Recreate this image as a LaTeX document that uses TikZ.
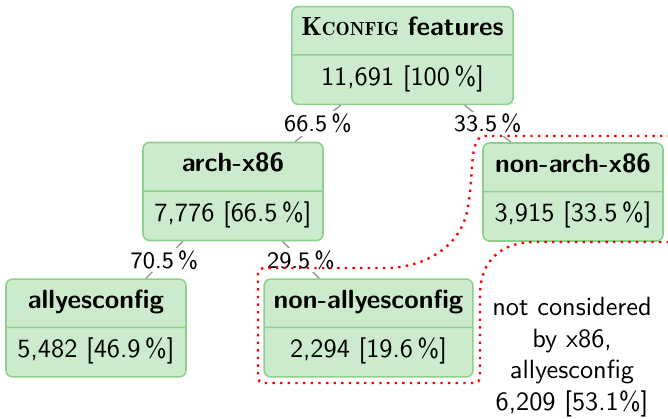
\documentclass[tikz,border=0pt]{standalone}
\usetikzlibrary{shapes.multipart}

\definecolor{boxfill}{RGB}{204,235,204}
\definecolor{boxline}{RGB}{140,208,140}
\definecolor{edgegray}{RGB}{150,150,150}

\tikzset{
  featbox/.style={rectangle split, rectangle split parts=2, draw=boxline,
    fill=boxfill, rounded corners=2.5pt, line width=0.6pt, font=\sffamily,
    minimum width=68.4pt, inner xsep=3.6pt, inner ysep=3.7pt},
  pct/.style={fill=white, font=\sffamily\small, inner sep=1pt},
  treeline/.style={draw=edgegray, line width=0.5pt},
  notconsidered/.style={draw=red, dotted, line width=0.9pt, rounded corners=2pt},
}
\newcommand{\boxstrut}{\rule[-3.3pt]{0pt}{8.9pt}}

\begin{document}
\begin{tikzpicture}[x=0.38pt,y=-0.38pt]
\useasboundingbox (0,0) rectangle (668,418);

% feature boxes
\node[featbox] (root) at (402.5,55.5)
  {\boxstrut{\rmfamily\fontseries{b}\selectfont K{\fontsize{7.2}{9}\selectfont CONFIG}} \textbf{features}
   \nodepart{second}\boxstrut 11,691 [100\,\%]};
\node[featbox] (arch) at (233,191.5)
  {\boxstrut\textbf{arch-x86}\nodepart{second}\boxstrut 7,776 [66.5\,\%]};
\node[featbox] (nonarch) at (573,192)
  {\boxstrut\textbf{non-arch-x86}\nodepart{second}\boxstrut 3,915 [33.5\,\%]};
\node[featbox] (allyes) at (96,328)
  {\boxstrut\textbf{allyesconfig}\nodepart{second}\boxstrut 5,482 [46.9\,\%]};
\node[featbox] (nonallyes) at (368.5,328)
  {\boxstrut\textbf{non-allyesconfig}\nodepart{second}\boxstrut 2,294 [19.6\,\%]};

% tree edges
\draw[treeline] (root) edge node[pct] {66.5\,\%} (arch);
\draw[treeline] (root) edge node[pct] {33.5\,\%} (nonarch);
\draw[treeline] (arch) edge node[pct] {70.5\,\%} (allyes);
\draw[treeline] (arch) edge node[pct] {29.5\,\%} (nonallyes);

% not considered region
\begin{scope}
\clip (0,0) rectangle (668,418);
\draw[notconsidered] (670,136) -- (490,136)
  .. controls (470,136) and (473,170) .. (469,200)
  .. controls (462,250) and (420,268) .. (380,268)
  -- (258,268) -- (258,383) -- (480,383) -- (480,300)
  .. controls (480,262) and (500,242) .. (540,242) -- (670,242);
\end{scope}
\node[font=\sffamily, align=center] (rest) at (572,357)
  {not considered\\by x86,\\allyesconfig\\6,209 [53.1\%]};
\end{tikzpicture}
\end{document}
